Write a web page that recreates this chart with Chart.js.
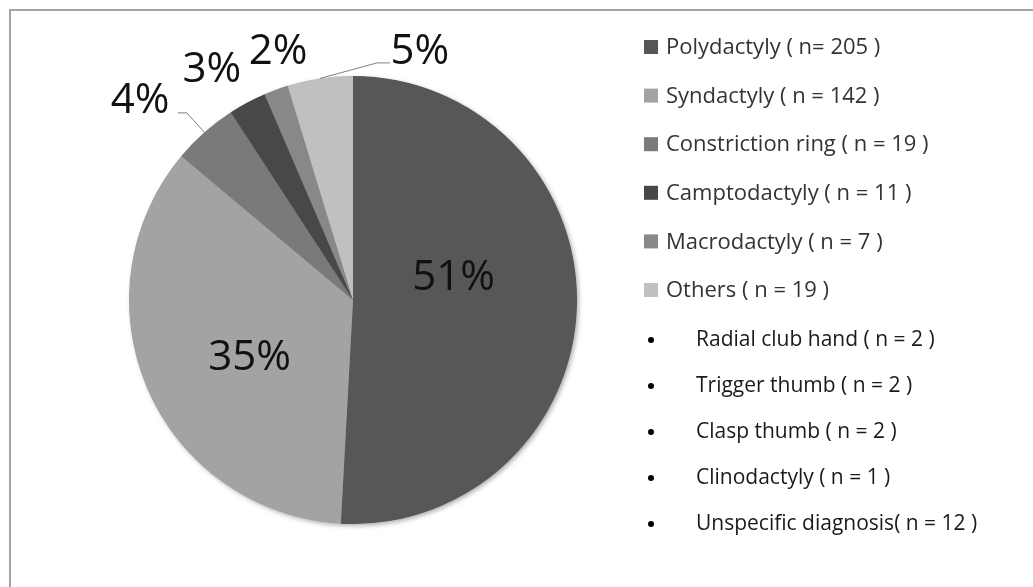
<!DOCTYPE html>
<html>
<head>
<meta charset="utf-8">
<script src="https://cdn.jsdelivr.net/npm/chart.js@4"></script>
<style>
  html, body { margin: 0; padding: 0; background: #fff; }
  #wrap { position: relative; width: 1033px; height: 587px; overflow: hidden; }
  #frame { position: absolute; left: 9px; top: 9px; width: 1100px; height: 700px;
           border-left: 2px solid #a3a3a3; border-top: 2px solid #a3a3a3; }
  canvas { position: absolute; left: 0; top: 0; }
</style>
</head>
<body>
<div id="wrap">
  <div id="frame"></div>
  <canvas id="pie" width="1033" height="587"></canvas>
</div>
<script>
// chart data
const categories = [
  'Polydactyly ( n= 205 )',
  'Syndactyly ( n = 142 )',
  'Constriction ring ( n = 19 )',
  'Camptodactyly ( n = 11 )',
  'Macrodactyly ( n = 7 )',
  'Others ( n = 19 )'
];
const counts = [205, 142, 19, 11, 7, 19];
const pctLabels = ['51%', '35%', '4%', '3%', '2%', '5%'];
const sliceColors = ['#575757', '#a3a3a3', '#7a7a7a', '#484848', '#888888', '#c0c0c0'];
const otherItems = [
  'Radial club hand ( n = 2 )',
  'Trigger thumb ( n = 2 )',
  'Clasp thumb ( n = 2 )',
  'Clinodactyly ( n = 1 )',
  'Unspecific diagnosis( n = 12 )'
];

// where each % label sits: angle (deg, clockwise from top) and distance as a fraction of the radius
const labelSpots = [
  { angle: 77.6, dist: 0.46 },
  { angle: 240.6, dist: 0.53 },
  { angle: 313, dist: 1.30 },
  { angle: 328.5, dist: 1.205 },
  { angle: 343.2, dist: 1.157 },
  { angle: 15.1, dist: 1.146 }
];
// leader lines: slice index, elbow point (angle/dist) and short horizontal tail
const leaders = [
  { index: 2, angle: 318.4, dist: 1.117, tail: -9 },
  { index: 5, angle: 5.8, dist: 1.064, tail: 13 }
];

function polar(cx, cy, r, deg) {
  const a = deg * Math.PI / 180;
  return { x: cx + r * Math.sin(a), y: cy - r * Math.cos(a) };
}

// soft shadow under the whole pie
const pieShadow = {
  id: 'pieShadow',
  beforeDatasetsDraw(chart) {
    const arc = chart.getDatasetMeta(0).data[0];
    if (!arc) return;
    const ctx = chart.ctx;
    ctx.save();
    ctx.shadowColor = 'rgba(0,0,0,0.35)';
    ctx.shadowBlur = 5;
    ctx.shadowOffsetX = 2;
    ctx.shadowOffsetY = 2;
    ctx.fillStyle = '#808080';
    ctx.beginPath();
    ctx.arc(arc.x, arc.y, arc.outerRadius - 0.5, 0, Math.PI * 2);
    ctx.fill();
    ctx.restore();
  }
};

// % labels, leader lines and the legend on the right
const pieLabels = {
  id: 'pieLabels',
  afterDraw(chart) {
    const ctx = chart.ctx;
    const meta = chart.getDatasetMeta(0);
    const arc0 = meta.data[0];
    const cx = arc0.x, cy = arc0.y, R = arc0.outerRadius;

    // leader lines
    ctx.save();
    ctx.strokeStyle = '#7f7f7f';
    ctx.lineWidth = 1;
    leaders.forEach(l => {
      const a = meta.data[l.index];
      const mid = ((a.startAngle + a.endAngle) / 2 + Math.PI / 2) * 180 / Math.PI;
      const p0 = polar(cx, cy, R, mid);
      const p1 = polar(cx, cy, R * l.dist, l.angle);
      ctx.beginPath();
      ctx.moveTo(p0.x, p0.y);
      ctx.lineTo(p1.x, p1.y);
      ctx.lineTo(p1.x + l.tail, p1.y);
      ctx.stroke();
    });
    ctx.restore();

    // percentage labels
    ctx.save();
    ctx.font = '42px "Open Sans"';
    ctx.fillStyle = '#111';
    ctx.textAlign = 'center';
    ctx.textBaseline = 'middle';
    pctLabels.forEach((t, i) => {
      const s = labelSpots[i];
      const p = polar(cx, cy, R * s.dist, s.angle);
      ctx.fillText(t, p.x, p.y);
    });
    ctx.restore();

    // legend for the slices
    ctx.save();
    ctx.font = '22px "Open Sans"';
    ctx.textBaseline = 'middle';
    categories.forEach((c, i) => {
      const y = 47 + i * 48.6;
      ctx.fillStyle = sliceColors[i];
      ctx.fillRect(644, y - 7, 14, 14);
      ctx.fillStyle = '#333';
      ctx.fillText(c, 666, y + 1);
    });

    // bullet list of the "others"
    ctx.font = '21px "Open Sans"';
    otherItems.forEach((t, i) => {
      const y = 340 + i * 46;
      ctx.fillStyle = '#000';
      ctx.beginPath();
      ctx.arc(651, y, 3, 0, Math.PI * 2);
      ctx.fill();
      ctx.fillStyle = '#1a1a1a';
      ctx.fillText(t, 696, y);
    });
    ctx.restore();
  }
};

new Chart(document.getElementById('pie'), {
  type: 'pie',
  data: {
    labels: categories,
    datasets: [{
      data: counts,
      backgroundColor: sliceColors,
      borderWidth: 0,
      hoverOffset: 0
    }]
  },
  options: {
    responsive: false,
    animation: false,
    events: [],
    layout: { padding: { left: 129, right: 456, top: 76, bottom: 63 } },
    plugins: {
      legend: { display: false },
      tooltip: { enabled: false }
    }
  },
  plugins: [pieShadow, pieLabels]
});
</script>
</body>
</html>
